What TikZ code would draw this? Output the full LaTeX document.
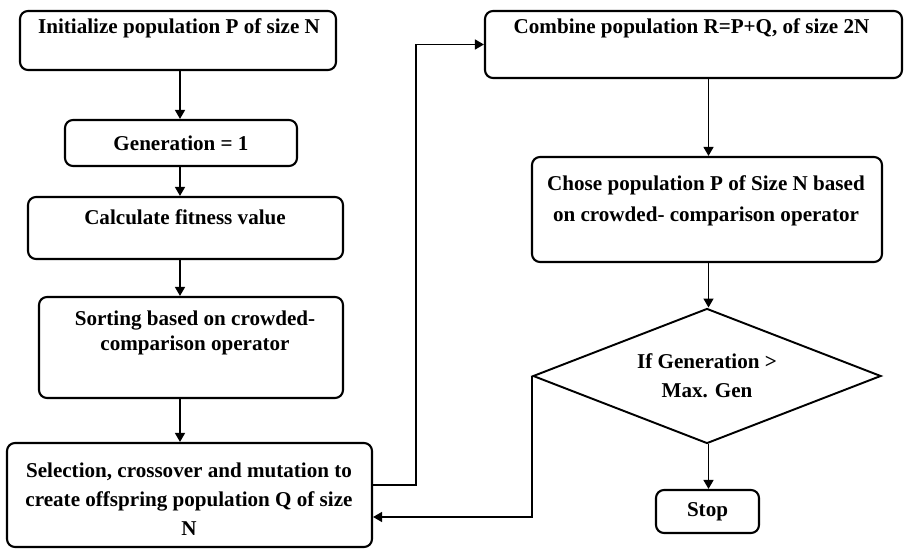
\documentclass[tikz,border=0pt]{standalone}
\usepackage{fontspec}
\setmainfont{Liberation Serif}
\usetikzlibrary{arrows.meta,shapes.geometric}

\begin{document}
\begin{tikzpicture}[
  caixa/.style={draw,rounded corners=1.6mm,line width=1.2pt,inner sep=0pt},
  texto/.style={font=\bfseries\fontsize{12pt}{#1}\selectfont,align=center},
  texto/.default=14.2pt,
  seta/.style={line width=0.8pt,-{Triangle[length=1.8mm,width=2mm]}}]
  \useasboundingbox (0,0) rectangle (18.08,-10.98);

  %coluna da esquerda
  \node[caixa,minimum width=6.32cm,minimum height=1.18cm] (init) at (3.56,-0.81) {};
  \node[texto] (init-t) at (3.58,-0.56) {Initialize population P of size N};
  \node[caixa,texto,minimum width=4.64cm,minimum height=0.92cm] (gen) at (3.62,-2.86) {Generation = 1};
  \node[caixa,minimum width=6.30cm,minimum height=1.24cm] (fit) at (3.71,-4.56) {};
  \node[texto] (fit-t) at (3.70,-4.34) {Calculate fitness value};
  \node[caixa,minimum width=6.08cm,minimum height=2.02cm] (sort) at (3.82,-6.95) {};
  \node[texto] (sort-t) at (3.90,-6.65) {Sorting based on crowded-\\comparison operator};
  \node[caixa,minimum width=7.30cm,minimum height=2.08cm] (sel) at (3.79,-9.90) {};
  \node[texto=16.4pt] (sel-t) at (3.78,-9.98) {Selection, crossover and mutation to\\create offspring population Q of size\\N};

  %coluna da direita
  \node[caixa,minimum width=8.34cm,minimum height=1.34cm] (comb) at (13.87,-0.89) {};
  \node[texto] (comb-t) at (13.83,-0.56) {Combine population R=P+Q, of size 2N};
  \node[caixa,minimum width=7.00cm,minimum height=2.10cm] (cho) at (14.14,-4.19) {};
  \node[texto=18pt] (cho-t) at (14.12,-4.02) {Chose population P of Size N based\\on crowded- comparison operator};
  \node[draw,diamond,aspect=2.58,line width=1.1pt,inner sep=0pt,minimum width=6.96cm,minimum height=2.70cm,texto=16.4pt] (check) at (14.14,-7.52) {If Generation >\\Max. Gen};
  \node[caixa,texto,minimum width=2.06cm,minimum height=0.86cm] (stop) at (14.15,-10.23) {Stop};

  %setas
  \coordinate (col) at (3.60,0);
  \draw[seta] (col |- init.south) -- (col |- gen.north);
  \draw[seta] (col |- gen.south) -- (col |- fit.north);
  \draw[seta] (col |- fit.south) -- (col |- sort.north);
  \draw[seta] (col |- sort.south) -- (col |- sel.north);

  \coordinate (rcol) at (14.17,0);
  \draw[seta] (rcol |- comb.south) -- (rcol |- cho.north);
  \draw[seta] (rcol |- cho.south) -- (rcol |- check.north);
  \draw[seta] (rcol |- check.south) -- (rcol |- stop.north);

  %laco
  \coordinate (sobe) at (8.32,-9.70);
  \draw[seta] (sel.east |- sobe) -- (sobe) |- (comb.west);
  \coordinate (volta) at (10.66,-10.34);
  \draw[seta] (check.west) |- (sel.east |- volta);
\end{tikzpicture}
\end{document}
